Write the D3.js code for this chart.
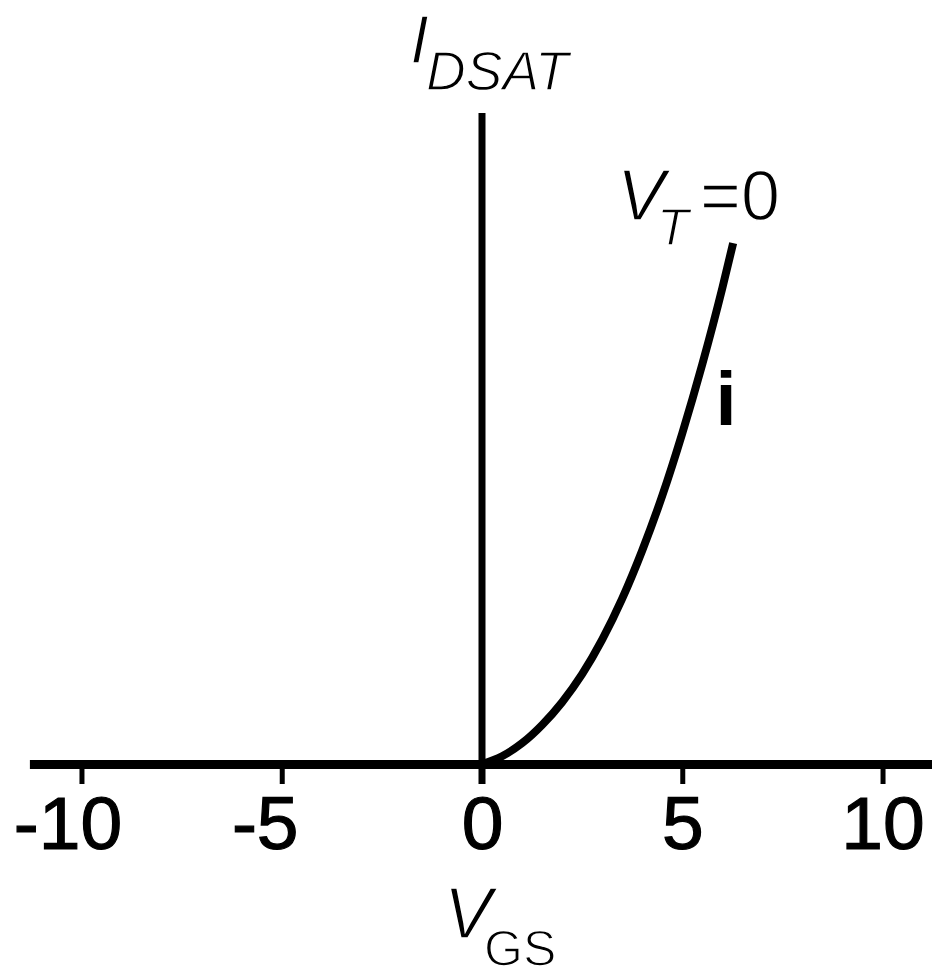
<!DOCTYPE html>
<html>
<head>
<meta charset="utf-8">
<script src="https://cdn.jsdelivr.net/npm/d3@7"></script>
<style>
  html, body { margin: 0; padding: 0; background: #fff; }
  svg { display: block; }
</style>
</head>
<body>
<svg id="chart" width="932" height="976"></svg>
<script>
// Gate voltage samples (V) and saturation drain current (arbitrary units)
const vgs = [0, 0.5, 1.0, 1.5, 2.0, 2.5, 3.0, 3.5, 4.0, 4.5, 5.0, 5.5, 6.0, 6.27];
const idsat = [0, 0.12, 0.32, 0.60, 0.95, 1.38, 1.91, 2.54, 3.28, 4.12, 5.08, 6.14, 7.31, 8.0];

// Axis tick values and their labels
const xTicks = [-10, -5, 0, 5, 10];
const xTickLabels = ["-10", "-5", "0", "5", "10"];
const xTickShift = [-14, -17, 0, 0, 0];

const svg = d3.select("#chart");

const x = d3.scaleLinear().domain([-11.3, 11.3]).range([29.4, 934.6]);
const y = d3.scaleLinear().domain([0, 10]).range([764, 113]);

const ink = "#000";
const sans = "'Liberation Sans', Arial, Helvetica, sans-serif";

// Horizontal V_GS axis with downward ticks
const xAxis = d3.axisBottom(x)
  .tickValues(xTicks)
  .tickFormat((d, i) => xTickLabels[i])
  .tickSize(20)
  .tickSizeOuter(0)
  .tickPadding(12);

const gx = svg.append("g")
  .attr("transform", `translate(0,${y(0)})`)
  .call(xAxis);

gx.select(".domain")
  .attr("stroke", ink)
  .attr("stroke-width", 9);

gx.selectAll(".tick line")
  .attr("stroke", ink)
  .attr("stroke-width", 5);

gx.selectAll(".tick text")
  .attr("fill", ink)
  .attr("stroke", ink)
  .attr("stroke-width", 1.2)
  .attr("font-family", sans)
  .attr("font-size", 75)
  .attr("dy", "0.71em")
  .attr("dx", (d, i) => xTickShift[i]);

// Vertical I_DSAT axis
svg.append("line")
  .attr("x1", x(0)).attr("x2", x(0))
  .attr("y1", y(0) + 20).attr("y2", y(10))
  .attr("stroke", ink)
  .attr("stroke-width", 7);

// Saturation current curve for V_T = 0
const line = d3.line()
  .x((d, i) => x(vgs[i]))
  .y(d => y(d))
  .curve(d3.curveMonotoneX);

svg.append("path")
  .datum(idsat)
  .attr("d", line)
  .attr("fill", "none")
  .attr("stroke", ink)
  .attr("stroke-width", 8)
  .attr("stroke-linecap", "butt");

// Thin-stroked lettering for the axis and curve titles
function title(sel) {
  return sel.append("text")
    .attr("font-family", sans)
    .attr("fill", ink)
    .attr("stroke", "#fff")
    .attr("stroke-width", 1.4);
}

// Y-axis title: I_DSAT
const yTitle = title(svg);
yTitle.append("tspan")
  .attr("x", 410).attr("y", 63)
  .attr("font-size", 68)
  .attr("font-style", "italic")
  .text("I");
yTitle.append("tspan")
  .attr("x", 426).attr("y", 90)
  .attr("font-size", 55)
  .attr("font-style", "italic")
  .text("DSAT");

// Curve label: V_T = 0
const vtLabel = title(svg);
vtLabel.append("tspan")
  .attr("x", 617).attr("y", 220)
  .attr("font-size", 72)
  .attr("font-style", "italic")
  .text("V");
vtLabel.append("tspan")
  .attr("x", 657).attr("y", 245)
  .attr("font-size", 52)
  .attr("font-style", "italic")
  .text("T");
vtLabel.append("tspan")
  .attr("x", 700).attr("y", 220)
  .attr("font-size", 70)
  .text("=0");

// Curve marker: i
svg.append("text")
  .attr("x", 726).attr("y", 425)
  .attr("text-anchor", "middle")
  .attr("font-family", sans)
  .attr("font-weight", 700)
  .attr("font-size", 76)
  .attr("fill", ink)
  .text("i");

// X-axis title: V_GS
const xTitle = title(svg);
xTitle.append("tspan")
  .attr("x", 444).attr("y", 938)
  .attr("font-size", 72)
  .attr("font-style", "italic")
  .text("V");
xTitle.append("tspan")
  .attr("x", 484).attr("y", 966)
  .attr("font-size", 50)
  .text("GS");
</script>
</body>
</html>
